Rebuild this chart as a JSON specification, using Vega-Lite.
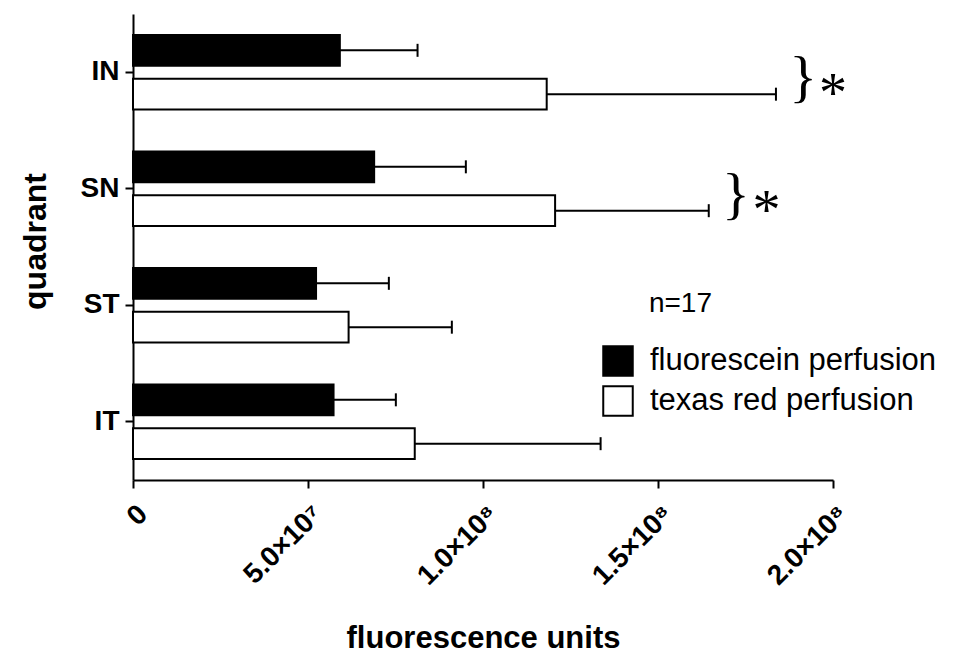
{
  "$schema": "https://vega.github.io/schema/vega-lite/v6.json",
  "width": 700,
  "height": 466,
  "autosize": {"type": "none"},
  "padding": {"left": 133, "top": 14, "right": 140, "bottom": 174},
  "background": "white",
  "config": {
    "view": {"stroke": null},
    "axis": {"grid": false, "labelColor": "black", "titleColor": "black", "domainColor": "black", "tickColor": "black"},
    "font": "Liberation Sans"
  },
  "datasets": {
    "bars": [
      {"quadrant": "IN", "group": "fluorescein perfusion", "mean": 59100000, "upper": 81300000},
      {"quadrant": "IN", "group": "texas red perfusion", "mean": 118200000, "upper": 183700000},
      {"quadrant": "SN", "group": "fluorescein perfusion", "mean": 68900000, "upper": 95100000},
      {"quadrant": "SN", "group": "texas red perfusion", "mean": 120600000, "upper": 164500000},
      {"quadrant": "ST", "group": "fluorescein perfusion", "mean": 52300000, "upper": 73100000},
      {"quadrant": "ST", "group": "texas red perfusion", "mean": 61600000, "upper": 91100000},
      {"quadrant": "IT", "group": "fluorescein perfusion", "mean": 57300000, "upper": 75100000},
      {"quadrant": "IT", "group": "texas red perfusion", "mean": 80500000, "upper": 133600000}
    ],
    "braces": [
      {"quadrant": "IN", "x": 187500000, "label": "}"},
      {"quadrant": "SN", "x": 168300000, "label": "}"}
    ],
    "stars": [
      {"quadrant": "IN", "x": 196000000, "label": "*"},
      {"quadrant": "SN", "x": 177000000, "label": "*"}
    ],
    "note": [
      {"quadrant": "ST", "x": 147400000, "label": "n=17"}
    ]
  },
  "layer": [
    {
      "data": {"name": "bars"},
      "mark": {"type": "bar", "stroke": "black", "strokeWidth": 2},
      "encoding": {
        "x": {"field": "mean", "type": "quantitative", "scale": {"domain": [0, 200000000], "nice": false, "zero": true},
          "axis": {
            "title": "fluorescence units",
            "values": [0, 50000000, 100000000, 150000000, 200000000],
            "labelExpr": "datum.value == 0 ? '0' : datum.value == 50000000 ? '5.0×10⁷' : datum.value == 100000000 ? '1.0×10⁸' : datum.value == 150000000 ? '1.5×10⁸' : '2.0×10⁸'",
            "labelAngle": -45,
            "labelFontSize": 28,
            "labelFontWeight": "bold",
            "labelFont": "Liberation Sans",
            "labelPadding": 12,
            "tickSize": 8,
            "tickWidth": 2,
            "domainWidth": 2,
            "titleFont": "Liberation Sans",
            "titleFontSize": 31,
            "titleFontWeight": "bold",
            "titleY": 167,
            "titleBaseline": "alphabetic"
          }
        },
        "y": {"field": "quadrant", "type": "nominal", "sort": ["IN", "SN", "ST", "IT"],
          "scale": {"paddingInner": 0.36, "paddingOuter": 0.18},
          "axis": {
            "title": "quadrant",
            "labelFontSize": 28,
            "labelFontWeight": "bold",
            "labelFont": "Liberation Sans",
            "labelPadding": 6,
            "tickSize": 8,
            "tickWidth": 2,
            "domainWidth": 2,
            "titleFont": "Liberation Sans",
            "titleFontSize": 32,
            "titleFontWeight": "bold",
            "titleX": -81,
            "titleY": 227,
            "titleBaseline": "bottom"
          }
        },
        "yOffset": {"field": "group", "type": "nominal", "sort": ["fluorescein perfusion", "texas red perfusion"], "scale": {"paddingInner": 0.3}},
        "color": {"field": "group", "type": "nominal",
          "scale": {"domain": ["fluorescein perfusion", "texas red perfusion"], "range": ["black", "white"]},
          "legend": {
            "orient": "none",
            "legendX": 469,
            "legendY": 331,
            "title": null,
            "padding": 0,
            "symbolType": "square",
            "symbolSize": 870,
            "symbolStrokeColor": "black",
            "symbolStrokeWidth": 2,
            "labelFont": "Liberation Sans",
            "labelFontSize": 31,
            "labelColor": "black",
            "labelOffset": 16,
            "labelLimit": 400,
            "rowPadding": 2
          }
        }
      }
    },
    {
      "data": {"name": "bars"},
      "mark": {"type": "rule", "color": "black", "strokeWidth": 2},
      "encoding": {
        "x": {"field": "mean", "type": "quantitative"},
        "x2": {"field": "upper"},
        "y": {"field": "quadrant", "type": "nominal", "sort": ["IN", "SN", "ST", "IT"]},
        "yOffset": {"field": "group", "type": "nominal", "sort": ["fluorescein perfusion", "texas red perfusion"]}
      }
    },
    {
      "data": {"name": "bars"},
      "mark": {"type": "tick", "color": "black", "thickness": 2, "size": 13, "opacity": 1},
      "encoding": {
        "x": {"field": "upper", "type": "quantitative"},
        "y": {"field": "quadrant", "type": "nominal", "sort": ["IN", "SN", "ST", "IT"]},
        "yOffset": {"field": "group", "type": "nominal", "sort": ["fluorescein perfusion", "texas red perfusion"]}
      }
    },
    {
      "data": {"name": "braces"},
      "mark": {"type": "text", "font": "Liberation Serif", "fontSize": 58, "align": "left", "baseline": "middle", "dy": 7, "color": "black"},
      "encoding": {
        "x": {"field": "x", "type": "quantitative"},
        "y": {"field": "quadrant", "type": "nominal", "sort": ["IN", "SN", "ST", "IT"]},
        "text": {"field": "label"}
      }
    },
    {
      "data": {"name": "stars"},
      "mark": {"type": "text", "font": "Liberation Serif", "fontSize": 56, "align": "left", "baseline": "alphabetic", "dy": 40, "color": "black"},
      "encoding": {
        "x": {"field": "x", "type": "quantitative"},
        "y": {"field": "quadrant", "type": "nominal", "sort": ["IN", "SN", "ST", "IT"]},
        "text": {"field": "label"}
      }
    },
    {
      "data": {"name": "note"},
      "mark": {"type": "text", "font": "Liberation Sans", "fontSize": 28, "align": "left", "baseline": "alphabetic", "dy": 7, "color": "black"},
      "encoding": {
        "x": {"field": "x", "type": "quantitative"},
        "y": {"field": "quadrant", "type": "nominal", "sort": ["IN", "SN", "ST", "IT"]},
        "text": {"field": "label"}
      }
    }
  ]
}
